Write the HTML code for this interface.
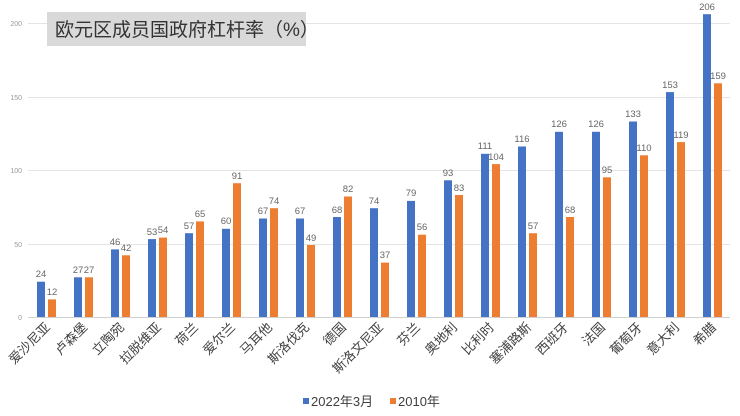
<!DOCTYPE html>
<html><head><meta charset="utf-8"><style>
html,body{margin:0;padding:0;background:#fff;}
svg{display:block;font-family:"Liberation Sans","Noto Sans CJK SC",sans-serif;}
.v{font-size:9.5px;fill:#666;text-anchor:middle;}
.x{font-size:13px;fill:#404040;text-anchor:end;}
.y{font-size:7px;fill:#999;text-anchor:end;}
</style></head><body>
<svg width="740" height="416" viewBox="0 0 740 416">
<rect width="740" height="416" fill="#fff"/>
<g stroke="#e4e4e4" stroke-width="1">
<line x1="28" y1="23.5" x2="730" y2="23.5"/>
<line x1="28" y1="97.5" x2="730" y2="97.5"/>
<line x1="28" y1="170.5" x2="730" y2="170.5"/>
<line x1="28" y1="244.5" x2="730" y2="244.5"/>
<line x1="28" y1="317.5" x2="730" y2="317.5" stroke="#d0d0d0"/>
</g>
<text class="y" x="22" y="26">200</text>
<text class="y" x="22" y="100">150</text>
<text class="y" x="22" y="173">100</text>
<text class="y" x="22" y="247">50</text>
<text class="y" x="22" y="320">0</text>
<rect x="47" y="12" width="259" height="34" fill="#d9d9d9"/>
<text x="55" y="36" font-size="19" fill="#333">欧元区成员国政府杠杆率（%）</text>
<g fill="#4472c4">
<rect x="37" y="281.7" width="8" height="35.3"/>
<rect x="74" y="277.3" width="8" height="39.7"/>
<rect x="111" y="249.4" width="8" height="67.6"/>
<rect x="148" y="239.1" width="8" height="77.9"/>
<rect x="185" y="233.2" width="8" height="83.8"/>
<rect x="222" y="228.8" width="8" height="88.2"/>
<rect x="259" y="218.5" width="8" height="98.5"/>
<rect x="296" y="218.5" width="8" height="98.5"/>
<rect x="333" y="217" width="8" height="100"/>
<rect x="370" y="208.2" width="8" height="108.8"/>
<rect x="407" y="200.9" width="8" height="116.1"/>
<rect x="444" y="180.3" width="8" height="136.7"/>
<rect x="481" y="153.8" width="8" height="163.2"/>
<rect x="518" y="146.5" width="8" height="170.5"/>
<rect x="555" y="131.8" width="8" height="185.2"/>
<rect x="592" y="131.8" width="8" height="185.2"/>
<rect x="629" y="121.5" width="8" height="195.5"/>
<rect x="666" y="92.1" width="8" height="224.9"/>
<rect x="703" y="14.2" width="8" height="302.8"/>
</g>
<g fill="#ed7d31">
<rect x="48" y="299.4" width="8" height="17.6"/>
<rect x="85" y="277.3" width="8" height="39.7"/>
<rect x="122" y="255.3" width="8" height="61.7"/>
<rect x="159" y="237.6" width="8" height="79.4"/>
<rect x="196" y="221.4" width="8" height="95.6"/>
<rect x="233" y="183.2" width="8" height="133.8"/>
<rect x="270" y="208.2" width="8" height="108.8"/>
<rect x="307" y="245" width="8" height="72"/>
<rect x="344" y="196.5" width="8" height="120.5"/>
<rect x="381" y="262.6" width="8" height="54.4"/>
<rect x="418" y="234.7" width="8" height="82.3"/>
<rect x="455" y="195" width="8" height="122"/>
<rect x="492" y="164.1" width="8" height="152.9"/>
<rect x="529" y="233.2" width="8" height="83.8"/>
<rect x="566" y="217" width="8" height="100"/>
<rect x="603" y="177.3" width="8" height="139.7"/>
<rect x="640" y="155.3" width="8" height="161.7"/>
<rect x="677" y="142.1" width="8" height="174.9"/>
<rect x="714" y="83.3" width="8" height="233.7"/>
</g>
<g class="v">
<text x="41" y="277">24</text><text x="52" y="295">12</text>
<text x="78" y="273">27</text><text x="89" y="273">27</text>
<text x="115" y="245">46</text><text x="126" y="251">42</text>
<text x="152" y="235">53</text><text x="163" y="233">54</text>
<text x="189" y="229">57</text><text x="200" y="217">65</text>
<text x="226" y="224">60</text><text x="237" y="179">91</text>
<text x="263" y="214">67</text><text x="274" y="204">74</text>
<text x="300" y="214">67</text><text x="311" y="241">49</text>
<text x="337" y="213">68</text><text x="348" y="192">82</text>
<text x="374" y="204">74</text><text x="385" y="258">37</text>
<text x="411" y="196">79</text><text x="422" y="230">56</text>
<text x="448" y="176">93</text><text x="459" y="191">83</text>
<text x="485" y="149">111</text><text x="496" y="160">104</text>
<text x="522" y="142">116</text><text x="533" y="229">57</text>
<text x="559" y="127">126</text><text x="570" y="213">68</text>
<text x="596" y="127">126</text><text x="607" y="173">95</text>
<text x="633" y="117">133</text><text x="644" y="151">110</text>
<text x="670" y="88">153</text><text x="681" y="138">119</text>
<text x="707" y="10">206</text><text x="718" y="79">159</text>
</g>
<g class="x">
<text transform="translate(51,328) rotate(-45)">爱沙尼亚</text>
<text transform="translate(88,328) rotate(-45)">卢森堡</text>
<text transform="translate(125,328) rotate(-45)">立陶宛</text>
<text transform="translate(162,328) rotate(-45)">拉脱维亚</text>
<text transform="translate(199,328) rotate(-45)">荷兰</text>
<text transform="translate(236,328) rotate(-45)">爱尔兰</text>
<text transform="translate(273,328) rotate(-45)">马耳他</text>
<text transform="translate(310,328) rotate(-45)">斯洛伐克</text>
<text transform="translate(347,328) rotate(-45)">德国</text>
<text transform="translate(384,328) rotate(-45)">斯洛文尼亚</text>
<text transform="translate(421,328) rotate(-45)">芬兰</text>
<text transform="translate(458,328) rotate(-45)">奥地利</text>
<text transform="translate(495,328) rotate(-45)">比利时</text>
<text transform="translate(532,328) rotate(-45)">塞浦路斯</text>
<text transform="translate(569,328) rotate(-45)">西班牙</text>
<text transform="translate(606,328) rotate(-45)">法国</text>
<text transform="translate(643,328) rotate(-45)">葡萄牙</text>
<text transform="translate(680,328) rotate(-45)">意大利</text>
<text transform="translate(717,328) rotate(-45)">希腊</text>
</g>
<rect x="303" y="398" width="6" height="6" fill="#4472c4"/>
<text x="311" y="406" font-size="13" fill="#404040">2022年3月</text>
<rect x="390" y="398" width="6" height="6" fill="#ed7d31"/>
<text x="398" y="406" font-size="13" fill="#404040">2010年</text>
</svg>
</body></html>
